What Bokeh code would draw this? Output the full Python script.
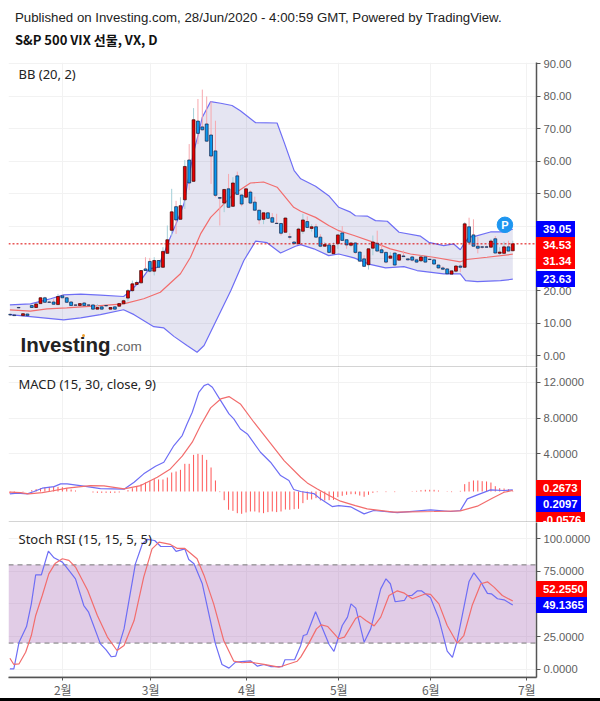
from bokeh.plotting import figure
from bokeh.layouts import column
from bokeh.models import Label, FixedTicker, ColumnDataSource, PolyAnnotation, Range1d, Div
from bokeh.embed import file_html
from bokeh.resources import INLINE

# ---- chart data -------------------------------------------------------
ohlc = [
 (12.8,13.0,12.5,12.6),(12.6,12.7,12.3,12.4),(14.9,15.1,14.7,14.8),(12.4,13.2,12.3,13.0),(12.9,13.0,12.3,12.4),
 (15.5,15.6,14.8,14.9),(14.9,16.2,14.8,16.0),(16.1,18.1,16.0,17.9),(17.9,18.2,16.4,16.5),(16.6,16.8,16.4,16.5),
 (16.6,17.5,15.8,15.9),(15.8,19.1,15.7,18.3),(18.5,18.8,17.8,17.9),(17.9,18.1,16.4,16.5),(16.6,16.8,15.4,15.5),
 (15.7,15.8,15.5,15.6),(15.5,16.2,15.4,16.1),(16.3,16.5,15.3,15.5),(15.7,15.8,15.5,15.6),(15.7,15.8,14.3,14.4),
 (14.4,16.0,14.3,14.9),(15.1,15.3,14.3,14.4),(15.5,15.6,15.3,15.4),(14.4,15.0,14.3,14.9),(15.1,15.3,14.3,14.4),
 (15.3,16.3,15.2,16.1),(16.1,17.3,16.0,17.0),(17.8,20.6,16.8,20.1),(20.1,23.2,19.6,22.2),(22.0,23.2,21.9,22.6),
 (22.5,26.4,22.4,26.3),(26.8,30.4,26.2,26.3),(29.1,30.2,25.7,26.1),(26.1,30.4,24.8,29.4),(29.4,29.5,27.2,27.3),
 (27.3,33.5,27.2,32.2),(31.6,40.2,31.5,35.8),(38.7,51.5,37.0,44.4),(46.0,47.8,37.6,41.9),(42.1,48.9,42.0,46.3),
 (48.1,60.4,45.3,58.4),(60.4,65.3,51.1,53.3),(53.8,76.4,53.6,72.8),(72.4,79.2,65.3,68.6),(70.6,82.1,69.5,69.7),
 (71.5,80.0,66.0,66.2),(68.1,78.5,53.0,61.6),(63.2,72.5,48.9,49.5),(48.8,48.9,40.2,48.6),(47.1,51.5,44.3,51.3),
 (51.5,56.1,45.7,45.8),(46.1,55.1,46.0,53.3),(55.5,56.8,49.7,49.8),(49.6,49.8,46.1,46.8),(48.9,51.6,48.7,51.5),
 (50.5,51.0,46.9,47.1),(47.4,49.1,44.8,44.9),(44.9,45.0,40.6,41.9),(42.1,44.2,40.6,44.1),(44.1,44.3,42.3,42.4),
 (42.6,44.0,41.1,41.2),(40.9,43.8,40.7,40.8),(40.8,41.0,37.1,37.8),(38.1,42.6,38.0,42.5),(36.7,37.8,35.9,36.6),
 (35.1,35.3,34.5,34.6),(34.6,39.5,34.5,39.1),(38.4,43.8,37.6,41.9),(41.4,43.0,39.5,39.6),(39.3,40.6,38.3,39.8),
 (39.8,40.7,36.5,36.6),(36.6,37.5,33.5,33.8),(33.8,35.1,33.7,34.3),(34.2,34.5,31.8,31.9),(31.5,35.0,31.4,34.0),
 (34.6,37.5,33.0,37.3),(37.9,40.0,35.5,35.6),(35.8,35.9,33.0,34.2),(34.1,35.0,33.5,34.8),(34.8,35.0,31.4,31.9),
 (32.0,32.2,29.0,29.2),(29.9,31.0,27.5,27.6),(28.1,33.2,26.6,33.0),(33.2,37.1,31.0,35.1),(34.7,38.6,32.2,32.3),
 (32.7,35.0,31.7,31.8),(31.9,32.1,28.5,28.9),(30.1,32.0,30.0,30.8),(31.7,31.8,27.9,28.0),(29.5,31.4,29.4,31.2),
 (30.8,32.5,30.5,30.6),(29.9,30.0,29.4,29.6),(30.5,30.8,29.1,29.5),(29.6,29.8,28.7,28.9),(29.3,31.0,28.9,30.5),
 (30.5,30.8,28.8,28.9),(29.8,29.9,29.5,29.7),(29.6,29.7,28.2,28.3),(28.0,28.1,26.9,27.1),(27.1,27.6,26.6,26.7),
 (26.8,27.0,25.2,25.3),(25.2,26.3,25.1,26.2),(26.1,28.0,25.7,27.7),(27.7,28.2,25.8,27.3),(27.3,41.2,27.2,40.7),
 (39.8,42.6,34.9,35.0),(37.3,42.1,33.7,33.8),(33.8,36.6,31.6,33.2),(33.6,33.9,33.0,33.5),(33.6,34.0,33.4,33.5),
 (33.5,36.0,33.4,35.4),(36.1,36.9,31.6,31.7),(31.6,33.5,31.0,32.0),(31.6,35.2,31.5,33.6),(33.6,35.5,32.2,32.3),
 (32.4,35.5,32.3,34.53),
]

bb_upper_x = [0,4.7,7,9.3,12.3,16.2,20.7,26,27.2,29.9,31.8,33.7,35.2,36.7,38.3,39.8,40.9,42.1,43,44,45.9,48.2,50.8,52.7,56.2,61.1,62.7,65,66.5,69.9,72.9,75.2,77.9,79,81.7,83.6,86.3,89,93.9,95.8,99.2,101.5,103,103.8,105,106.5,109.9,112.9,115]
bb_upper_y = [15.7,16.0,16.8,17.6,18.8,19.0,18.7,18.3,19.6,23.2,26.8,27.3,31.4,36.6,41.7,46.9,55.1,63.3,67.9,73.6,78.4,77.9,77.2,75.6,71.9,71.8,65.9,57.1,54.6,52.3,49.4,45.8,44.3,43.2,43.1,41.7,41.5,38.1,36.9,35.0,34.0,34.5,32.7,34.5,36.6,36.9,38.2,38.2,39.05]
bb_lower_x = [0,4.7,12.3,16.2,20.7,26,28.4,32.9,35.2,37.5,40.5,42.8,44.4,46.6,50.5,53.5,56.2,58.8,61.9,65.3,66.5,69.5,72.9,75.2,78.7,82.1,85.9,90.1,93.1,99.2,103,104.2,106.9,112.2,115]
bb_lower_y = [12.7,12.1,11.1,11.7,12.7,14.2,12.7,9.0,8.6,6.0,3.2,1.1,3.2,9.3,20.1,29.4,35.4,34.9,31.7,33.8,34.3,33.0,30.9,31.4,30.2,28.3,27.1,27.5,26.3,25.3,25.3,23.2,22.9,23.2,23.63]
bb_mid_x = [0,4.7,8.5,13,20.7,26,30.6,34.4,39,41.3,43.6,45.9,51.2,55,58,61.1,64.9,66.5,69.9,72.9,75.2,78.7,83.2,87,91.6,96.9,103,104.5,109.1,115]
bb_mid_y = [14.2,13.8,14.5,14.8,15.5,16.0,17.6,19.6,25.3,30.4,37.6,42.7,49.9,53.3,53.6,52.0,45.8,44.6,42.7,40.2,38.6,37.1,35.0,33.0,31.4,30.4,29.0,29.7,30.4,31.34]

macd_x = [0,1.7,4,5.5,7.4,10.1,11.6,13.1,16.9,20.7,26.1,28.4,30.6,33.3,35.2,37.5,39.4,40.5,41.7,43.2,44.4,45.3,46.3,48.2,50.1,51.2,52.7,54.3,57.3,59.6,61.9,63.8,64.9,66.5,69.5,71,73.7,75.2,77.9,81,83.2,88.6,96.2,100.8,103,104.6,106.9,109.9,112.9,115]
macd_y = [-0.46,-0.39,-0.46,-0.2,0.17,0.35,0.65,0.65,0.39,0.13,0.06,0.84,1.77,2.62,3.07,4.93,6.04,7.34,8.64,10.87,11.62,11.8,11.43,9.94,8.46,7.9,6.78,6.23,4.18,3.07,1.58,1.02,0.02,-0.2,-0.43,-1.02,-1.88,-1.77,-1.91,-2.7,-2.32,-2.55,-2.25,-2.43,-2.32,-1.02,-0.58,-0.02,-0.09,-0.02]
signal_x = [0,2.4,4.3,7.4,9.3,13.1,18.4,21.5,26.1,29.9,33.7,36.7,39.4,41.7,43.6,45.9,48.2,50.1,52.7,55.8,58.8,62.7,66.5,68,70.3,73,75.6,79,81.7,87.8,97,103,106.9,110.3,113,115]
signal_y = [-0.28,-0.32,-0.46,-0.32,-0.17,0.17,0.46,0.43,0.09,0.46,1.39,2.32,3.74,5.3,7.16,9.13,10.13,10.39,9.57,7.53,5.67,3.25,1.39,0.76,0.09,-0.65,-1.28,-1.77,-2.14,-2.51,-2.43,-2.36,-1.84,-0.95,-0.28,-0.09]
hist = [-0.22,-0.15,0,0.04,0,0.15,0.26,0.37,0.45,0.52,0.56,0.52,0.48,0.37,0.22,0.11,0,0,0,-0.11,-0.15,-0.15,-0.15,-0.15,-0.15,-0.11,0,0.15,0.37,0.56,0.82,1.0,1.19,1.38,1.34,1.34,1.56,2.12,2.23,2.42,3.09,3.09,4.09,4.2,4.09,3.53,2.68,1.23,-0.07,-0.97,-2.04,-2.16,-2.42,-2.49,-2.34,-2.23,-2.23,-2.34,-2.42,-2.3,-2.23,-2.3,-2.23,-2.01,-2.04,-1.97,-1.93,-1.3,-0.93,-0.89,-0.74,-1.0,-1.0,-0.97,-0.93,-0.63,-0.48,-0.37,-0.3,-0.3,-0.45,-0.59,-0.37,-0.15,-0.07,0,-0.07,0,-0.07,0,0,0,0.04,0.07,0.15,0.19,0.19,0.19,0.11,0,-0.04,-0.07,0,0.07,0.82,1.08,1.23,1.23,1.15,1.12,1.0,0.59,0.37,0.33,0.26,-0.0576]

k_x = [0,0.9,2.1,3.8,4.9,5.9,7.2,8.8,10.1,12,13.5,15,16.9,18,20.7,22,23.2,24.2,26.1,28.7,30.3,31.4,33.1,34.5,37.1,38,40,40.9,42.1,44,47,48.5,50.1,51.6,55,56.6,58.1,59.6,62.3,62.9,65.1,66.5,67.1,67.9,69.9,73,74.1,76,77.2,78,79.1,81,82.5,84.8,86,87,88.1,90.2,90.9,91.9,93.2,94.1,96.2,98.1,100,101.2,102.3,105,106.1,107.7,109.2,110.1,111.5,113,115]
k_y = [0.25,0.25,20.7,32.7,50.1,72.4,72.4,90.5,85.4,82.1,75.7,69.3,48.8,43.7,19.4,14.8,9.5,10,30.9,80.8,96.2,99.5,98.7,94.1,94.1,90.3,92.3,84.1,80.8,65.5,19.4,3.6,0.8,5.4,6.4,2.3,3.6,2,2,7.2,7.2,18.2,25.8,26.6,44,18.9,13.6,33.5,39.9,50.1,46.8,20.7,30.9,61.6,69.3,65.5,51.7,52.7,56.5,56.5,60.1,60.1,54.7,38.6,13.8,9,22,67.3,73.9,66.8,58.1,57.8,54,53.2,49.1365]
d_x = [0,0.9,2.1,3.6,4.9,5.9,7.4,8.9,10.4,12,13.5,15,17.8,20,22.3,24.5,26.1,28.4,30.6,32.5,34.1,36.7,38.3,40,42.8,44.4,46.6,48.9,51.2,53.1,55,58.1,61.5,63.4,65.7,66.5,68.3,70.1,71.2,72.7,75.2,76.5,79.1,80.1,81.4,83.3,84.8,86.7,88.6,90.2,92,95.1,96.2,98.1,100,102.3,103.8,105.7,107.7,109.2,110.7,112.6,115]
d_y = [8.4,3.6,4.1,13,25.8,41.2,56.5,73.1,81.3,84.7,83.4,78.3,60.4,41.2,24.6,14.3,18.2,37.3,70.6,92.3,97.4,95.7,92.6,92.6,84.7,71.9,50.1,22,6.1,4.9,5.4,3.6,1.5,3.6,6.1,9.2,19.4,30.9,34,32.7,23.3,24.6,39.1,40.7,37.3,33.2,39.9,56.5,60.1,58.3,54,57.8,57.3,50.1,33.5,19.9,25.8,48.8,65.5,67,62.9,56.5,52.255]

month_ticks = [12.1,32.2,54.2,75.2,96.25,118.2]
month_labels = ["2월","3월","4월","5월","6월","7월"]
bb_ticks = [0,10,20,30,40,50,60,70,80,90]
macd_ticks = [4,8,12]
stoch_ticks = [0,25,75,100]
stoch_grid = [0,25,50,75,100]
last_price = 34.53
price_tags = ["39.05","34.53","31.34","23.63"]
macd_tags = ["0.2673","0.2097","-0.0576"]
stoch_tags = ["52.2550","49.1365"]

# ---- styles / layout --------------------------------------------------
AX = "#555555"; GRID = "#f2f2f2"; BLUE = "#6e6ef5"; RED = "#f26d6d"
SANS = "Liberation Sans"; LEG = "Noto Sans"
XR = (-0.32, 120.42)

def make(h, top, bottom, ticks, fmt, min_top=0, min_bottom=0, right=57):
    p = figure(frame_width=528, frame_height=h, min_border_left=8, min_border_right=right,
               min_border_top=min_top, min_border_bottom=min_bottom,
               x_range=Range1d(*XR), y_range=Range1d(bottom, top),
               y_axis_location="right", output_backend="svg", toolbar_location=None)
    p.outline_line_color = None
    p.background_fill_color = "white"
    p.xaxis.ticker = FixedTicker(ticks=month_ticks)
    p.yaxis.ticker = FixedTicker(ticks=ticks)
    p.yaxis.major_label_overrides = {t: fmt % t for t in ticks}
    p.xgrid.ticker = FixedTicker(ticks=month_ticks)
    p.ygrid.ticker = FixedTicker(ticks=ticks)
    p.grid.grid_line_color = GRID
    p.grid.grid_line_width = 1
    ax = p.yaxis[0]
    ax.axis_line_color = AX; ax.axis_line_width = 1.5
    ax.major_tick_line_color = AX; ax.major_tick_in = 0; ax.major_tick_out = 4
    ax.minor_tick_line_color = None
    ax.major_label_text_color = "#5e5e5e"; ax.major_label_text_font = SANS
    ax.major_label_text_font_size = "11.2px"; ax.major_label_standoff = 3
    return p

def hline(p):
    p.add_layout(PolyAnnotation(xs=[0, 593, 593, 0], ys=[0.75, 0.75, -0.75, -0.75],
                                xs_units="screen", ys_units="screen", fill_color=AX, fill_alpha=1, line_color=None))

def text(p, x, y, s, size, font=LEG, color="#222222", style="normal"):
    p.add_layout(Label(x=x, y=y, x_units="screen", y_units="screen", text=s, text_font=font, text_font_size=size,
                       text_color=color, text_font_style=style, text_baseline="middle", text_align="left"))

# ---- price + Bollinger ------------------------------------------------
p1 = make(305, 90.46, -3.6, bb_ticks, "%.2f", min_top=62)
p1.xaxis.visible = False
p1.patch(bb_upper_x + bb_lower_x[::-1], bb_upper_y + bb_lower_y[::-1], fill_color="#333399", fill_alpha=0.13, line_color=None)
p1.line(bb_upper_x, bb_upper_y, line_color=BLUE, line_width=1.2)
p1.line(bb_lower_x, bb_lower_y, line_color=BLUE, line_width=1.2)
p1.line(bb_mid_x, bb_mid_y, line_color=RED, line_width=1.2)

idx = list(range(len(ohlc)))
up = [i for i in idx if ohlc[i][3] > ohlc[i][0]]
dn = [i for i in idx if ohlc[i][3] <= ohlc[i][0]]
for ids, wick, body, edge in ((up, "#a3cfd8", "#e60000", "#3a0505"), (dn, "#f7a8ae", "#0a98ee", "#12224a")):
    src = ColumnDataSource(dict(x=ids,
                                o=[ohlc[i][0] for i in ids], h=[ohlc[i][1] for i in ids],
                                l=[ohlc[i][2] for i in ids], c=[ohlc[i][3] for i in ids]))
    p1.segment("x", "h", "x", "l", source=src, line_color=wick, line_width=1)
    p1.vbar("x", 0.66, "o", "c", source=src, fill_color=body, line_color=edge, line_width=0.7)

p1.line([XR[0], XR[1]], [last_price, last_price], line_color="#dd0000", line_width=1, line_dash=[2, 2])
p1.scatter([113.2], [40.4], size=15.5, marker="circle", fill_color="#1e96f0", line_color="#1e96f0")
p1.add_layout(Label(x=113.2, y=40.4, text="P", text_color="white", text_font=SANS, text_font_style="bold",
                    text_font_size="11px", text_align="center", text_baseline="middle"))
text(p1, 10, 294, "BB (20, 2)", "13px")
text(p1, 12, 23, "Investing", "20.5px", font=SANS, color="#222222", style="bold")
text(p1, 104, 21, ".com", "13.5px", font=SANS, color="#666666")
hline(p1)

# ---- MACD -------------------------------------------------------------
p2 = make(155, 13.64, -3.66, macd_ticks, "%.4f")
p2.xaxis.visible = False
HIST_BASE = -0.2
p2.segment(idx, [HIST_BASE] * len(idx), idx, [v + HIST_BASE for v in hist], line_color="#ff5555", line_width=1)
p2.line(macd_x, macd_y, line_color=BLUE, line_width=1.2)
p2.line(signal_x, signal_y, line_color=RED, line_width=1.2)
text(p2, 10, 139, "MACD (15, 30, close, 9)", "13px")
hline(p2)

# ---- Stoch RSI -------------------------------------------------------
p3 = make(155, 112.5, -6.4, stoch_ticks, "%.4f", min_bottom=24, right=64)
p3.ygrid.ticker = FixedTicker(ticks=stoch_grid)
p3.patch([XR[0], 120.2, 120.2, XR[0]], [80, 80, 20, 20], fill_color="#9a57ab", fill_alpha=0.3, line_color=None)
p3.line([XR[0], 120.2], [80, 80], line_color="#777777", line_dash=[5, 4], line_width=1)
p3.line([XR[0], 120.2], [20, 20], line_color="#777777", line_dash=[5, 4], line_width=1)
p3.line(k_x, k_y, line_color=BLUE, line_width=1.2)
p3.line(d_x, d_y, line_color=RED, line_width=1.2)
text(p3, 10, 139, "Stoch RSI (15, 15, 5, 5)", "13px")
xa = p3.xaxis[0]
xa.axis_line_color = AX; xa.axis_line_width = 1.5
xa.major_tick_line_color = AX; xa.major_tick_in = 0; xa.major_tick_out = 3; xa.minor_tick_line_color = None
xa.major_label_overrides = dict(zip(month_ticks, month_labels))
xa.major_label_text_color = "#5e5e5e"; xa.major_label_text_font = "Noto Sans CJK KR"
xa.major_label_text_font_size = "12px"; xa.major_label_standoff = 0
hline(p3)

# ---- header and value tags: HTML text over the canvases ---------------
def box(left, top, width, height, bg, s="", extra=""):
    return (f'<div style="position:absolute;left:{left}px;top:{top}px;width:{width}px;height:{height}px;'
            f'background:{bg};overflow:hidden;white-space:nowrap;{extra}">{s}</div>')

def tag(left, top, width, height, bg, s):
    return box(left, top, width, height, bg, s,
               f'color:#fff;font:bold 11.3px/16px {SANS};padding-left:7px;box-sizing:border-box;')

B, R = "#0000ff", "#ff0000"
html = (
    box(15, 9, 560, 17, "none", "Published on Investing.com, 28/Jun/2020 - 4:00:59 GMT, Powered by TradingView.",
        f"color:#222;font:13.25px/17px {SANS};")
    + box(15, 31, 300, 18, "none", "S&amp;P 500 VIX 선물, VX, D",
          "color:#111;font:bold 13px/18px 'Noto Sans CJK KR';")
    + box(82, 334, 3, 3, "#f0a030", "", "border-radius:2px;")
    + tag(536, 221, 39, 16, B, price_tags[0]) + tag(536, 237, 39, 16, R, price_tags[1])
    + tag(536, 253, 39, 16, R, price_tags[2]) + tag(536, 271, 39, 16, B, price_tags[3])
    + tag(536, 480, 45, 16, R, macd_tags[0]) + tag(536, 496, 45, 16, B, macd_tags[1])
    + tag(536, 512, 49, 10, R, macd_tags[2])
    + tag(536, 581, 51, 16, R, stoch_tags[0]) + tag(536, 597, 51, 16, B, stoch_tags[1])
    + box(0, 698, 600, 3, "#000000")
)
overlay = Div(text=html, width=1, height=1, margin=0,
              styles={"position": "absolute", "left": "0px", "top": "0px", "z-index": "10", "overflow": "visible"})

page = column(p1, p2, p3, overlay, spacing=0)
open("out.html", "w").write(file_html(page, INLINE))
